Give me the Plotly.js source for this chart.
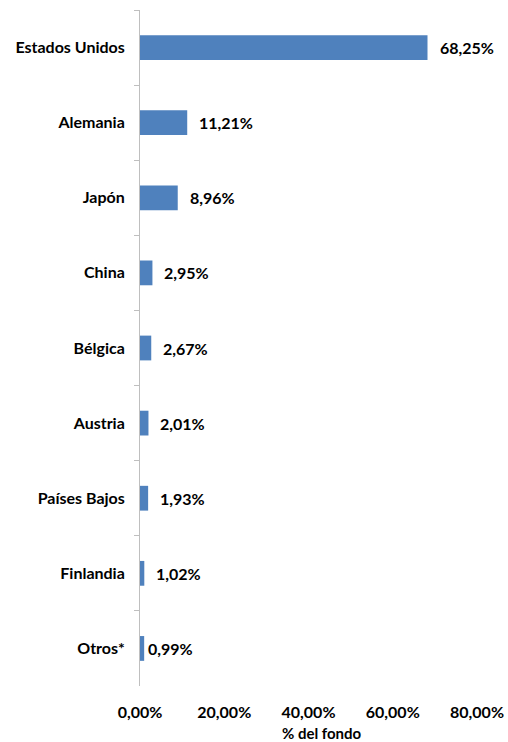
<!DOCTYPE html>
<html>
<head>
<meta charset="utf-8">
<script src="https://cdn.plot.ly/plotly-3.0.1.min.js"></script>
<style>html,body{margin:0;padding:0;background:#fff;}</style>
</head>
<body>
<div id="chart" style="width:508px;height:742px;"></div>
<script>
const countries = ["Estados Unidos", "Alemania", "Japón", "China", "Bélgica", "Austria", "Países Bajos", "Finlandia", "Otros*"];
const shares = [68.25, 11.21, 8.96, 2.95, 2.67, 2.01, 1.93, 1.02, 0.99];
const xTicks = [0, 20, 40, 60, 80];
const xTitle = '% del fondo';

const fmt = v => v.toFixed(2).replace('.', ',') + '%';
const FONT = 'Lato, "Open Sans", sans-serif';
const FS = 16;

const trace = {
  type: 'bar',
  orientation: 'h',
  x: shares,
  y: countries,
  marker: {color: '#4f81bd'},
  hoverinfo: 'none'
};

const annotations = countries.map((c, i) => ({
  x: shares[i], y: c, xref: 'x', yref: 'y',
  text: fmt(shares[i]), showarrow: false,
  xanchor: 'left', xshift: shares[i] < 1.0 ? 2 : 10,
  font: {family: FONT, size: FS, color: '#000', weight: 'bold'}
}));

annotations.push({
  xref: 'paper', yref: 'paper', x: 0.54, y: -0.069,
  xanchor: 'center', yanchor: 'middle', showarrow: false,
  text: xTitle,
  font: {family: FONT, size: FS - 1, color: '#000', weight: 'bold'}
});

const layout = {
  width: 508, height: 742,
  margin: {l: 140, r: 31, t: 10, b: 56},
  paper_bgcolor: '#fff', plot_bgcolor: '#fff',
  showlegend: false,
  bargap: 0.67,
  separators: ',.',
  font: {family: FONT, size: FS, color: '#000', weight: 'bold'},
  xaxis: {
    range: [0, 80],
    tickvals: xTicks,
    ticktext: xTicks.map(fmt),
    showgrid: false, zeroline: false, showline: false,
    ticks: '', ticklabelstandoff: 15,
    tickfont: {family: FONT, size: FS, color: '#000', weight: 'bold'},
    fixedrange: true
  },
  yaxis: {
    categoryorder: 'array', categoryarray: countries,
    autorange: 'reversed',
    showgrid: false, zeroline: false,
    showline: true, linecolor: '#bfbfbf', linewidth: 1,
    ticks: 'outside', tickson: 'boundaries', ticklen: 5, tickcolor: '#bfbfbf',
    ticklabelstandoff: 11,
    tickfont: {family: FONT, size: FS, color: '#000', weight: 'bold'},
    fixedrange: true
  },
  annotations: annotations
};

Plotly.newPlot('chart', [trace], layout, {displayModeBar: false, staticPlot: true});
</script>
</body>
</html>
